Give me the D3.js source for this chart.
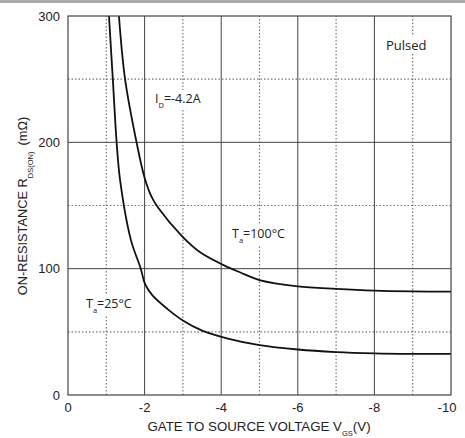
<!DOCTYPE html>
<html>
<head>
<meta charset="utf-8">
<script src="https://cdn.jsdelivr.net/npm/d3@7"></script>
<style>
  body { margin: 0; background: #fff; }
  svg { display: block; }
</style>
</head>
<body>
<svg width="465" height="438"></svg>
<script>
// values
var xTicks = [0, -2, -4, -6, -8, -10];
var xMinor = [-1, -3, -5, -7, -9];
var yTicks = [0, 100, 200, 300];
var yMinor = [50, 150, 250];

// Ta = 25C : [Vgs, Rds(on) mOhm]
var vgs25 = [-1.07, -1.17, -1.27, -1.36, -1.64, -1.9, -2.01, -2.2, -2.6, -3.0, -3.5, -4.2, -5.0, -6.0, -7.0, -8.0, -9.0, -10.0];
var rds25 = [300, 250, 200, 170, 123, 100, 88, 79, 68, 59, 51, 44.5, 39.5, 36, 34, 33, 32.6, 32.5];

// Ta = 100C
var vgs100 = [-1.33, -1.49, -1.79, -2.0, -2.18, -2.36, -3.0, -3.45, -4.05, -4.5, -5.0, -6.0, -7.0, -8.0, -9.0, -10.0];
var rds100 = [300, 250, 200, 172, 157, 148, 125, 113, 103, 97, 91, 86, 84, 82.6, 82, 81.8];

var w = 465;
var h = 438;
var margin = {top: 16, right: 14, bottom: 43, left: 68};

var svg = d3.select("svg");

// grey strip at the very top
svg.append("rect").attr("x", 0).attr("y", 0).attr("width", w).attr("height", 3).attr("fill", "#a8a8a8");

var x = d3.scaleLinear().domain([0, -10]).range([margin.left, w - margin.right]);
var y = d3.scaleLinear().domain([0, 300]).range([h - margin.bottom, margin.top]);

var grid = svg.append("g");

//dotted grid
grid.selectAll("line.xm").data(xMinor).enter().append("line")
    .attr("x1", d => x(d)).attr("x2", d => x(d))
    .attr("y1", y(0)).attr("y2", y(300))
    .attr("stroke", "#777").attr("stroke-width", 1.2).attr("stroke-dasharray", "1.5,2");
grid.selectAll("line.ym").data(yMinor).enter().append("line")
    .attr("y1", d => y(d)).attr("y2", d => y(d))
    .attr("x1", x(0)).attr("x2", x(-10))
    .attr("stroke", "#777").attr("stroke-width", 1.2).attr("stroke-dasharray", "1.5,2");

//solid grid
grid.selectAll("line.xs").data(xTicks.slice(1, -1)).enter().append("line")
    .attr("x1", d => x(d)).attr("x2", d => x(d))
    .attr("y1", y(0)).attr("y2", y(300))
    .attr("stroke", "#444").attr("stroke-width", 1);
grid.selectAll("line.ys").data(yTicks.slice(1, -1)).enter().append("line")
    .attr("y1", d => y(d)).attr("y2", d => y(d))
    .attr("x1", x(0)).attr("x2", x(-10))
    .attr("stroke", "#444").attr("stroke-width", 1);

// label with a white box behind it
function label(px, py, main, sub, rest, size) {
    var t = svg.append("text")
        .attr("x", px).attr("y", py)
        .attr("font-family", "'Open Sans', sans-serif")
        .attr("font-size", size)
        .attr("fill", "#222");
    t.append("tspan").text(main);
    if (sub) {
        t.append("tspan").attr("font-size", size * 0.6).attr("dy", 5).text(sub);
        t.append("tspan").attr("dy", -5).text(rest);
    }
    var bb = t.node().getBBox();
    svg.insert("rect", "text")
        .attr("x", bb.x - 2).attr("y", bb.y).attr("width", bb.width + 4).attr("height", bb.height)
        .attr("fill", "#fff");
    return t;
}

// curves
var line = d3.line()
    .x(d => x(d[0]))
    .y(d => y(d[1]))
    .curve(d3.curveCatmullRom.alpha(0.5));

var curves = svg.append("g");
curves.append("path")
    .attr("d", line(d3.zip(vgs25, rds25)))
    .attr("fill", "none").attr("stroke", "#111").attr("stroke-width", 1.8);
curves.append("path")
    .attr("d", line(d3.zip(vgs100, rds100)))
    .attr("fill", "none").attr("stroke", "#111").attr("stroke-width", 1.8);

// frame
svg.append("rect")
    .attr("x", x(0)).attr("y", y(300))
    .attr("width", x(-10) - x(0)).attr("height", y(0) - y(300))
    .attr("fill", "none").attr("stroke", "#444").attr("stroke-width", 1.2);

// annotations
label(386, 50, "Pulsed", null, null, 13);
label(155, 103, "I", "D", "=-4.2A", 12.5);
label(232, 238, "T", "a", "=100\u00b0C", 12.5);
label(86, 308, "T", "a", "=25\u00b0C", 12.5);

// tick labels
svg.append("g").selectAll("text").data(xTicks).enter().append("text")
    .attr("x", d => x(d) + (d === -10 ? -4 : 0))
    .attr("y", y(0) + 17)
    .attr("text-anchor", "middle")
    .attr("font-family", "'Liberation Sans', Arial, sans-serif")
    .attr("font-size", 13).attr("fill", "#222")
    .text(d => d);

svg.append("g").selectAll("text").data(yTicks).enter().append("text")
    .attr("x", x(0) - 8)
    .attr("y", d => y(d) + 4.5)
    .attr("text-anchor", "end")
    .attr("font-family", "'Liberation Sans', Arial, sans-serif")
    .attr("font-size", 13).attr("fill", "#222")
    .text(d => d);

// axis titles
var xt = svg.append("text")
    .attr("x", 259).attr("y", 431)
    .attr("text-anchor", "middle")
    .attr("font-family", "'Liberation Sans', Arial, sans-serif")
    .attr("font-size", 13.3).attr("fill", "#222");
xt.append("tspan").text("GATE TO SOURCE VOLTAGE V");
xt.append("tspan").attr("font-size", 7.5).attr("dy", 5).text("GS");
xt.append("tspan").attr("dy", -5).text("(V)");

var yt = svg.append("text")
    .attr("transform", "translate(27,206) rotate(-90)")
    .attr("text-anchor", "middle")
    .attr("font-family", "'Liberation Sans', Arial, sans-serif")
    .attr("font-size", 12.8).attr("fill", "#222");
yt.append("tspan").text("ON-RESISTANCE R");
yt.append("tspan").attr("font-size", 7.5).attr("dy", 6).text("DS(ON)");
yt.append("tspan").attr("dy", -6).attr("dx", 6).text("(m\u03a9)");
</script>
</body>
</html>
